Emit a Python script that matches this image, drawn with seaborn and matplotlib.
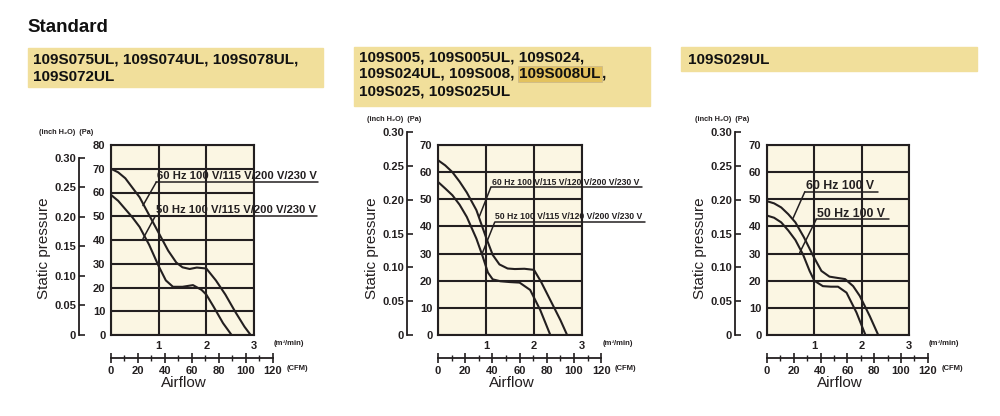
import seaborn as sns
import matplotlib.pyplot as plt
import pandas as pd
from matplotlib.patches import Rectangle

W, H = 1000, 416

# ---- data (m3/min, Pa) ----
# chart 1: 109S075UL ...
c1_60_flow = [0, 0.15, 0.3, 0.45, 0.6, 0.8, 1.0, 1.2, 1.37, 1.5, 1.65, 1.8, 2.0, 2.2, 2.4, 2.6, 2.8, 2.93]
c1_60_pa = [70, 68.5, 66, 62, 58, 50.5, 43, 35.5, 30.5, 28.5, 27.8, 28.4, 28, 23, 17, 10, 3.5, 0]
c1_50_flow = [0, 0.15, 0.3, 0.45, 0.6, 0.8, 1.0, 1.15, 1.3, 1.5, 1.72, 1.9, 2.0, 2.15, 2.35, 2.53]
c1_50_pa = [59, 56.5, 53, 49.5, 45.5, 38, 29, 23, 20.3, 20.3, 21, 19, 17, 12, 5, 0]

# chart 2: 109S005 ...
c2_60_flow = [0, 0.15, 0.3, 0.45, 0.6, 0.8, 1.0, 1.14, 1.28, 1.45, 1.6, 1.8, 2.0, 2.15, 2.35, 2.55, 2.69]
c2_60_pa = [64.4, 62.5, 60, 56.5, 52.5, 46, 36, 29.5, 26, 24.5, 24.3, 24.4, 24, 19.5, 12.5, 5.5, 0]
c2_50_flow = [0, 0.15, 0.3, 0.45, 0.6, 0.8, 0.93, 1.04, 1.14, 1.3, 1.5, 1.7, 1.92, 2.13, 2.34]
c2_50_pa = [56.4, 54, 51.5, 48, 43.5, 35.5, 29, 23, 20.5, 19.8, 19.5, 19.3, 16.6, 9.2, 0]

# chart 3: 109S029UL
c3_60_flow = [0, 0.15, 0.3, 0.45, 0.6, 0.78, 0.98, 1.15, 1.32, 1.5, 1.65, 1.82, 1.96, 2.17, 2.35]
c3_60_pa = [49.3, 48.5, 47, 44.5, 41.5, 36, 29, 23.6, 21.5, 21, 20.6, 18, 14.4, 7, 0]
c3_50_flow = [0, 0.15, 0.3, 0.45, 0.6, 0.76, 0.9, 1.0, 1.18, 1.35, 1.5, 1.68, 1.89, 2.08]
c3_50_pa = [44, 43.2, 41.5, 38.5, 35, 29.7, 23.6, 20, 18, 17.8, 17.8, 15.6, 8.3, 0]

pa_ticks_80 = [0, 10, 20, 30, 40, 50, 60, 70, 80]
pa_ticks_70 = [0, 10, 20, 30, 40, 50, 60, 70]
inch_ticks = [0, 0.05, 0.10, 0.15, 0.20, 0.25, 0.30]
inch_labels = ["0", "0.05", "0.10", "0.15", "0.20", "0.25", "0.30"]
flow_ticks = [0, 1, 2, 3]
cfm_ticks = [0, 20, 40, 60, 80, 100, 120]

sns.set_style("white")
plt.rcParams['font.family'] = ['Liberation Sans', 'DejaVu Sans']

INK = '#231f20'
CREAM = '#fbf6e3'
YELLOW = '#f1df9b'

fig = plt.figure(figsize=(W / 100, H / 100), dpi=100)


def px_axes(left, top, width, height):
    return fig.add_axes([left / W, 1 - (top + height) / H, width / W, height / H])


def ftext(x, y, s, **kw):
    return fig.text(x / W, 1 - y / H, s, **kw)


def draw_chart(left, right, top, bottom, ymax, pa_ticks, inch_x,
               curves, labels, label_size, ylab_x):
    w, h = right - left, bottom - top
    ax = px_axes(left, top, w, h)
    ax.set_facecolor(CREAM)
    for (fx, fy) in curves:
        df = pd.DataFrame({"flow": fx, "pa": fy})
        sns.lineplot(data=df, x="flow", y="pa", ax=ax, color=INK, lw=1.5,
                     sort=False, estimator=None, zorder=3)
    ax.set_xlim(0, 3)
    ax.set_ylim(0, ymax)
    ax.set_xticks(flow_ticks)
    ax.set_xticklabels(["", "1", "2", "3"])
    ax.set_yticks(pa_ticks)
    ax.tick_params(length=0, labelsize=8, colors=INK, pad=4)
    for t in ax.get_xticklabels() + ax.get_yticklabels():
        t.set_fontweight('bold')
    ax.grid(True, color=INK, lw=1.5)
    for s in ax.spines.values():
        s.set_color(INK)
        s.set_linewidth(1.5)
    ax.set_xlabel("")
    ax.set_ylabel("")
    ax.text(1.14, -0.045, "(m\u00b3/min)", transform=ax.transAxes, fontsize=5.5,
            fontweight='bold', color=INK, va='center', ha='left')

    # curve labels with underline and leader line
    for (tx, ty, ux0, ux1, uy, lx, ly, txt) in labels:
        ax.text(tx, ty, txt, fontsize=label_size, fontweight='bold',
                color=INK, ha='left', va='baseline', clip_on=False, zorder=4)
        ax.plot([ux0, ux1], [uy, uy], color=INK, lw=1.1, clip_on=False, zorder=4)
        ax.plot([ux0, lx], [uy, ly], color=INK, lw=1.1, clip_on=False, zorder=4)

    # inch H2O scale
    ih = h * (0.30 * 249.09 / ymax)
    ia = px_axes(inch_x, bottom - ih, 1, ih)
    ia.patch.set_visible(False)
    for k in ["top", "right", "bottom"]:
        ia.spines[k].set_visible(False)
    ia.spines["left"].set_color(INK)
    ia.spines["left"].set_linewidth(1.3)
    ia.set_ylim(0, 0.30)
    ia.set_xticks([])
    ia.set_yticks(inch_ticks)
    ia.set_yticklabels(inch_labels)
    ia.tick_params(axis='y', left=True, direction='in', length=4, width=1.2,
                   colors=INK, labelsize=8, pad=2)
    for t in ia.get_yticklabels():
        t.set_fontweight('bold')
    ftext(inch_x - 40, min(top, bottom - ih) - 12.5, "(inch H\u2082O)  (Pa)",
          fontsize=5.3, fontweight='bold', color=INK, va='center')

    # CFM scale
    cw = w * (120 / 35.315) / 3
    ca = px_axes(left, 357, cw, 1)
    ca.patch.set_visible(False)
    for k in ["top", "right", "left"]:
        ca.spines[k].set_visible(False)
    ca.spines["bottom"].set_color(INK)
    ca.spines["bottom"].set_linewidth(1.3)
    ca.set_xlim(0, 120)
    ca.set_yticks([])
    ca.set_xticks(cfm_ticks)
    ca.set_xticks([10, 30, 50, 70, 90, 110], minor=True)
    ca.tick_params(axis='x', which='major', bottom=True, direction='inout',
                   length=7, width=1.2, colors=INK, labelsize=8, pad=2)
    ca.tick_params(axis='x', which='minor', bottom=True, direction='inout',
                   length=4, width=1.0, colors=INK)
    for t in ca.get_xticklabels():
        t.set_fontweight('bold')
    ftext(left + cw + 14, 368, "(CFM)", fontsize=5.5, fontweight='bold',
          color=INK, va='center')

    ftext(left + cw * 0.45, 383, "Airflow", fontsize=11, color=INK,
          ha='center', va='center')
    ftext(ylab_x, (top + bottom) / 2 + 8, "Static pressure", fontsize=11,
          color=INK, rotation=90, ha='center', va='center')


# header
ftext(27, 27, "Standard", fontsize=13.5, fontweight='bold', color='#111111', va='center')

fig.patches.append(Rectangle((28 / W, 1 - 87 / H), 295 / W, 39 / H, color=YELLOW,
                             transform=fig.transFigure, zorder=0))
fig.patches.append(Rectangle((354 / W, 1 - 106 / H), 296 / W, 59 / H, color=YELLOW,
                             transform=fig.transFigure, zorder=0))
fig.patches.append(Rectangle((681 / W, 1 - 71 / H), 296 / W, 24 / H, color=YELLOW,
                             transform=fig.transFigure, zorder=0))

hdr = dict(fontsize=11, fontweight='bold', color='#111111', va='center')
ftext(33, 60, "109S075UL, 109S074UL, 109S078UL,", **hdr)
ftext(33, 77, "109S072UL", **hdr)
ftext(359, 57, "109S005, 109S005UL, 109S024,", **hdr)
pre = ftext(359, 74, "109S024UL, 109S008,", **hdr)
ftext(359, 91, "109S025, 109S025UL", **hdr)
ftext(688, 60, "109S029UL", **hdr)

# highlighted model name on line 2 of the middle box
renderer = fig.canvas.get_renderer()
x_end = pre.get_window_extent(renderer).x1
hl = fig.text((x_end + 5) / W, 1 - 74 / H, "109S008UL", **hdr,
              bbox=dict(facecolor='#e3c25e', edgecolor='#c9b68a', pad=0.8, lw=0.5))
x_end2 = hl.get_window_extent(renderer).x1
fig.text((x_end2 + 1) / W, 1 - 74 / H, ",", **hdr)

draw_chart(111, 254, 145, 335, 80, pa_ticks_80, 79,
           [(c1_60_flow, c1_60_pa), (c1_50_flow, c1_50_pa)],
           [(0.97, 65.7, 0.95, 4.34, 64.4, 0.67, 54.5, "60 Hz 100 V/115 V/200 V/230 V"),
            (0.94, 51.4, 0.93, 4.32, 50.1, 0.67, 40.5, "50 Hz 100 V/115 V/200 V/230 V")],
           8.1, 44)

draw_chart(438, 582, 145, 335, 70, pa_ticks_70, 407,
           [(c2_60_flow, c2_60_pa), (c2_50_flow, c2_50_pa)],
           [(1.12, 55.3, 1.1, 4.24, 54.4, 0.86, 43.6, "60 Hz 100 V/115 V/120 V/200 V/230 V"),
            (1.19, 42.6, 1.18, 4.31, 41.5, 0.92, 30.0, "50 Hz 100 V/115 V/120 V/200 V/230 V")],
           6.2, 372)

draw_chart(767, 909, 145, 335, 70, pa_ticks_70, 735,
           [(c3_60_flow, c3_60_pa), (c3_50_flow, c3_50_pa)],
           [(0.82, 53.8, 0.8, 2.34, 52.8, 0.55, 43.0, "60 Hz 100 V"),
            (1.06, 43.6, 1.04, 2.58, 42.6, 0.69, 30.3, "50 Hz 100 V")],
           8.8, 700)

fig.savefig("out.png", dpi=100, facecolor='white')
